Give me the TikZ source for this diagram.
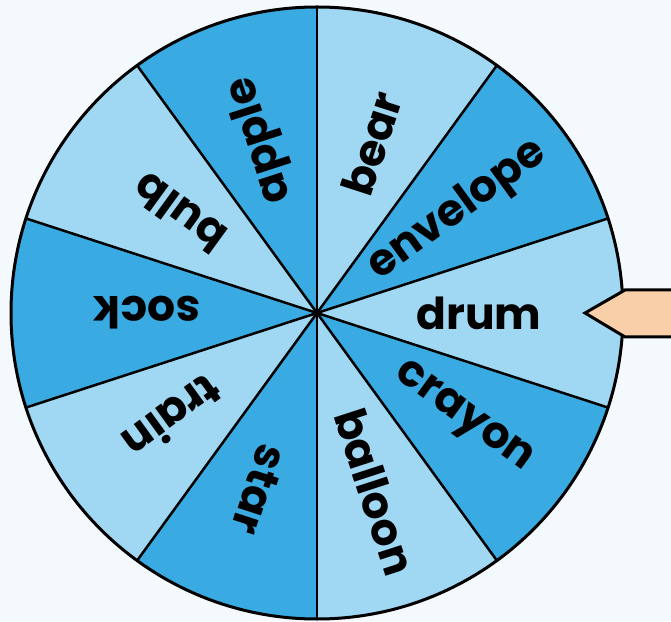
\documentclass[tikz,border=0pt]{standalone}
\usepackage{fontspec}
\setmainfont{Poppins}
\usepackage{xcolor}
\usetikzlibrary{positioning}
\definecolor{wheelLight}{RGB}{160,216,244}
\definecolor{wheelDark}{RGB}{58,171,226}
\definecolor{pointerFill}{RGB}{249,207,170}
\definecolor{pageBg}{RGB}{244,249,253}

\begin{document}
\begin{tikzpicture}[x=1pt, y=1pt,
    word/.style={font=\bfseries\fontsize{44}{44}\selectfont, inner sep=0pt},
    rim/.style={line width=3pt}]
  \fill[pageBg] (0,0) rectangle (671,621);
  \useasboundingbox (0,0) rectangle (671,621);
  \clip (0,0) rectangle (671,621);
  \coordinate (hub) at (317,308);

  % Segments
  \foreach \a/\col in {0/wheelLight,36/wheelDark,72/wheelLight,108/wheelDark,
                       144/wheelLight,180/wheelDark,216/wheelLight,252/wheelDark,
                       288/wheelLight,324/wheelDark}
    \fill[\col] (hub) -- ++(\a-18:306) arc[start angle=\a-18, end angle=\a+18, radius=306] -- cycle;

  % Dividers
  \foreach \a in {18,54,...,342}
    \draw[line width=2.5pt] (hub) -- ++(\a:306);
  \draw[rim] (hub) circle (306);
  \fill (hub) circle (4);

  % Words (angle / text / distance from the hub)
  \foreach \a/\w/\r in {0/drum/162,36/envelope/174,72/bear/178,108/apple/182,
                        144/bulb/170,180/sock/170,216/train/178,252/star/186,
                        288/balloon/188,324/crayon/180}
    \node[word, rotate=\a] (w-\w) at ([shift={(\a:\r)}]hub) {\w};

  % Pointer
  \coordinate (tip) at (585,308);
  \draw[rim, fill=pointerFill] (tip) -- (625,331) -- (690,331) -- (690,284)
    -- (625,284) -- cycle;
\end{tikzpicture}
\end{document}
